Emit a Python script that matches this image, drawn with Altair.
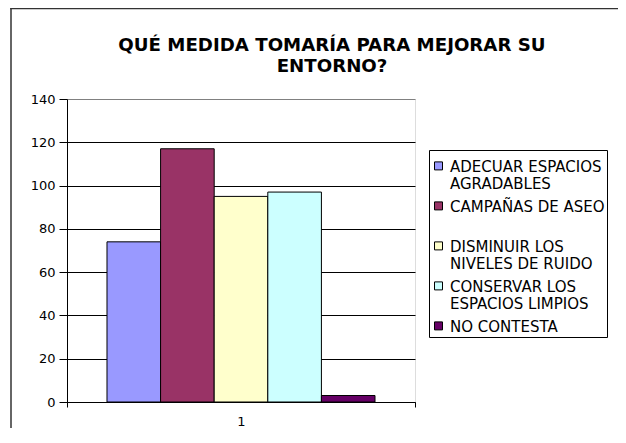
import altair as alt
import pandas as pd

# ---- data ----
categories = [
    "ADECUAR ESPACIOS AGRADABLES",
    "CAMPAÑAS DE ASEO",
    "DISMINUIR LOS NIVELES DE RUIDO",
    "CONSERVAR LOS ESPACIOS LIMPIOS",
    "NO CONTESTA",
]
values = [74, 117, 95, 97, 3]
group_labels = ["1", "1", "1", "1", "1"]
colors = ["#9999FF", "#993366", "#FFFFCC", "#CCFFFF", "#660066"]
legend_lines = [
    ["ADECUAR ESPACIOS", "AGRADABLES"],
    ["CAMPAÑAS DE ASEO\u00a0\u00a0\u00a0\u00a0", " "],
    ["DISMINUIR LOS", "NIVELES DE RUIDO"],
    ["CONSERVAR LOS", "ESPACIOS LIMPIOS"],
    ["NO CONTESTA"],
]
y_ticks = [0, 20, 40, 60, 80, 100, 120, 140]
title_lines = ["QUÉ MEDIDA TOMARÍA PARA MEJORAR SU", "ENTORNO?"]

df = pd.DataFrame({"grupo": group_labels, "categoria": categories, "valor": values})

# legend label expression: wrap each category into its lines
expr = "datum.label"
for cat, lines in reversed(list(zip(categories, legend_lines))):
    arr = "[" + ",".join("'" + l + "'" for l in lines) + "]"
    expr = f"datum.label == '{cat}' ? {arr} : ({expr})"

FONT = "DejaVu Sans"

bars = alt.Chart(df).mark_bar(stroke="black", strokeWidth=1, opacity=1).encode(
    x=alt.X(
        "grupo:N",
        scale=alt.Scale(paddingInner=0, paddingOuter=0),
        axis=alt.Axis(
            title=None, labelAngle=0, labelFont=FONT, labelFontSize=13,
            labelColor="black", tickBand="extent", tickSize=5, tickColor="black",
            tickWidth=1, domainColor="black", domainWidth=1, labelPadding=8,
        ),
    ),
    xOffset=alt.XOffset(
        "categoria:N", sort=categories,
        scale=alt.Scale(paddingInner=0, paddingOuter=0.746),
    ),
    y=alt.Y(
        "valor:Q",
        scale=alt.Scale(domain=[0, 140], nice=False, zero=True),
        axis=alt.Axis(
            values=y_ticks, title=None, labelFont=FONT, labelFontSize=13,
            labelColor="black", tickColor="black", tickSize=8, tickWidth=1,
            labelPadding=4, domainColor="black", domainWidth=1,
            grid=True, gridWidth=1,
            gridColor=alt.condition("datum.value >= 140", alt.value("#808080"), alt.value("#000000")),
        ),
    ),
    color=alt.Color(
        "categoria:N", sort=categories,
        scale=alt.Scale(domain=categories, range=colors),
        legend=alt.Legend(
            title=None, orient="none", legendX=362, legendY=51,
            fillColor="white", strokeColor="black", padding=2,
            labelFont=FONT, labelFontSize=15, labelExpr=expr,
            labelBaseline="top", labelColor="black", labelLimit=400,
            labelOffset=4, rowPadding=0,
            symbolType="M-1,0.6H1V2.6H-1Z", symbolSize=64,
            symbolStrokeColor="black", symbolStrokeWidth=1, symbolOpacity=1,
        ),
    ),
)

one = alt.Data(values=[{"k": 1}])

frame_left = alt.Chart(one).mark_rule(stroke="#333333", strokeWidth=1.5).encode(
    x=alt.value(-56), y=alt.value(-91), y2=alt.value(340)
)
frame_top = alt.Chart(one).mark_rule(stroke="#333333", strokeWidth=1.5).encode(
    x=alt.value(-56.75), x2=alt.value(560), y=alt.value(-90.5)
)
title = alt.Chart(one).mark_text(
    font=FONT, fontSize=18.2, fontWeight="bold", color="black",
    align="center", baseline="alphabetic", lineHeight=21,
).encode(x=alt.value(265), y=alt.value(-48), text=alt.value(title_lines))

chart = alt.layer(frame_left, frame_top, title, bars).properties(
    width=348,
    height=303,
    autosize=alt.AutoSizeParams(type="none"),
    padding={"left": 59, "top": 91, "right": 203, "bottom": 26},
).configure_view(
    fill="#C0C0C0", stroke="#808080", strokeWidth=1
).configure(background="white")

chart.save("out.html", embed_options={"renderer": "svg", "actions": False})
